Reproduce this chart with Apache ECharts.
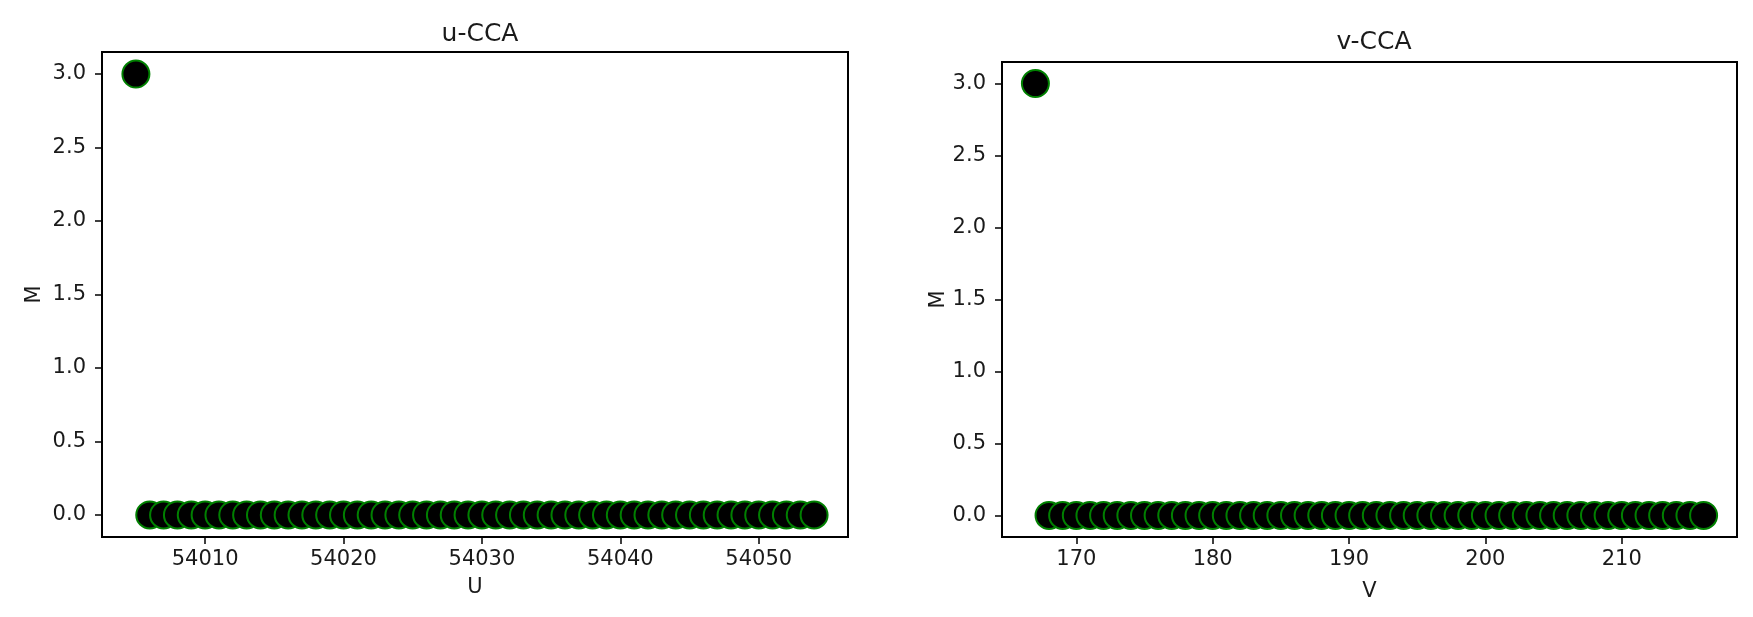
<!DOCTYPE html>
<html>
<head>
<meta charset="utf-8">
<script src="https://cdn.jsdelivr.net/npm/echarts@6/dist/echarts.min.js"></script>
<style>
html,body{margin:0;padding:0;background:#fff;}
#c{width:1753px;height:617px;}
</style>
</head>
<body>
<div id="c"></div>
<script>
// ---- data ----
const uValues = [54005, 54006, 54007, 54008, 54009, 54010, 54011, 54012, 54013, 54014,
  54015, 54016, 54017, 54018, 54019, 54020, 54021, 54022, 54023, 54024,
  54025, 54026, 54027, 54028, 54029, 54030, 54031, 54032, 54033, 54034,
  54035, 54036, 54037, 54038, 54039, 54040, 54041, 54042, 54043, 54044,
  54045, 54046, 54047, 54048, 54049, 54050, 54051, 54052, 54053, 54054];
const uM = [3, 0, 0, 0, 0, 0, 0, 0, 0, 0,
  0, 0, 0, 0, 0, 0, 0, 0, 0, 0,
  0, 0, 0, 0, 0, 0, 0, 0, 0, 0,
  0, 0, 0, 0, 0, 0, 0, 0, 0, 0,
  0, 0, 0, 0, 0, 0, 0, 0, 0, 0];
const vValues = [167, 168, 169, 170, 171, 172, 173, 174, 175, 176,
  177, 178, 179, 180, 181, 182, 183, 184, 185, 186,
  187, 188, 189, 190, 191, 192, 193, 194, 195, 196,
  197, 198, 199, 200, 201, 202, 203, 204, 205, 206,
  207, 208, 209, 210, 211, 212, 213, 214, 215, 216];
const vM = [3, 0, 0, 0, 0, 0, 0, 0, 0, 0,
  0, 0, 0, 0, 0, 0, 0, 0, 0, 0,
  0, 0, 0, 0, 0, 0, 0, 0, 0, 0,
  0, 0, 0, 0, 0, 0, 0, 0, 0, 0,
  0, 0, 0, 0, 0, 0, 0, 0, 0, 0];
const uTicks = [54010, 54020, 54030, 54040, 54050];
const vTicks = [170, 180, 190, 200, 210];
const mTicks = [0.0, 0.5, 1.0, 1.5, 2.0, 2.5, 3.0];
const titles = ['u-CCA', 'v-CCA'];
const xNames = ['U', 'V'];
const yName = 'M';

// ---- chart ----
const FONT = 'DejaVu Sans';
const TXT = '#1a1a1a';
function pad(arr) { const lo = Math.min(...arr), hi = Math.max(...arr); const m = (hi - lo) * 0.05; return [lo - m, hi + m]; }
const uR = pad(uValues), vR = pad(vValues), mR = pad(uM);

function xAxis(idx, range, ticks, name, gap) {
  return {
    type: 'value', gridIndex: idx, min: range[0], max: range[1],
    name: name, nameLocation: 'middle', nameGap: gap,
    nameTextStyle: {fontFamily: FONT, fontSize: 21, color: TXT},
    splitLine: {show: false},
    axisLine: {show: true, onZero: false, lineStyle: {color: '#000', width: 2}},
    axisTick: {show: true, length: 7, lineStyle: {color: '#000', width: 1.5}, customValues: ticks},
    axisLabel: {fontFamily: FONT, fontSize: 21, color: TXT, margin: 12, customValues: ticks,
      formatter: v => String(Math.round(v))}
  };
}
function yAxis(idx, range, ticks, gap) {
  return {
    type: 'value', gridIndex: idx, min: range[0], max: range[1],
    name: yName, nameLocation: 'middle', nameGap: gap,
    nameTextStyle: {fontFamily: FONT, fontSize: 21, color: TXT},
    splitLine: {show: false},
    axisLine: {show: true, onZero: false, lineStyle: {color: '#000', width: 2}},
    axisTick: {show: true, length: 7, lineStyle: {color: '#000', width: 1.5}, customValues: ticks},
    axisLabel: {fontFamily: FONT, fontSize: 21, color: TXT, margin: 16, customValues: ticks,
      formatter: v => v.toFixed(1)}
  };
}
function series(idx, xs, ys) {
  return {
    type: 'scatter', xAxisIndex: idx, yAxisIndex: idx,
    data: xs.map((x, i) => [x, ys[i]]),
    symbol: 'circle', symbolSize: 27,
    itemStyle: {color: '#000', borderColor: '#008000', borderWidth: 2, opacity: 1},
    emphasis: {disabled: true}, animation: false
  };
}

const chart = echarts.init(document.getElementById('c'), null, {renderer: 'canvas'});
chart.setOption({
  animation: false,
  backgroundColor: '#fff',
  title: [
    {text: titles[0], left: 475, top: 17, textAlign: 'center',
     textStyle: {fontFamily: FONT, fontSize: 25, fontWeight: 'normal', color: TXT}},
    {text: titles[1], left: 1369, top: 25, textAlign: 'center',
     textStyle: {fontFamily: FONT, fontSize: 25, fontWeight: 'normal', color: TXT}}
  ],
  grid: [
    {left: 102, top: 52, width: 746, height: 485, show: true, borderColor: '#000', borderWidth: 2, backgroundColor: 'transparent'},
    {left: 1002, top: 62, width: 735, height: 475, show: true, borderColor: '#000', borderWidth: 2, backgroundColor: 'transparent'}
  ],
  xAxis: [xAxis(0, uR, uTicks, xNames[0], 40), xAxis(1, vR, vTicks, xNames[1], 44)],
  yAxis: [yAxis(0, mR, mTicks, 57), yAxis(1, pad(vM), mTicks, 52)],
  series: [series(0, uValues, uM), series(1, vValues, vM)]
});
</script>
</body>
</html>
